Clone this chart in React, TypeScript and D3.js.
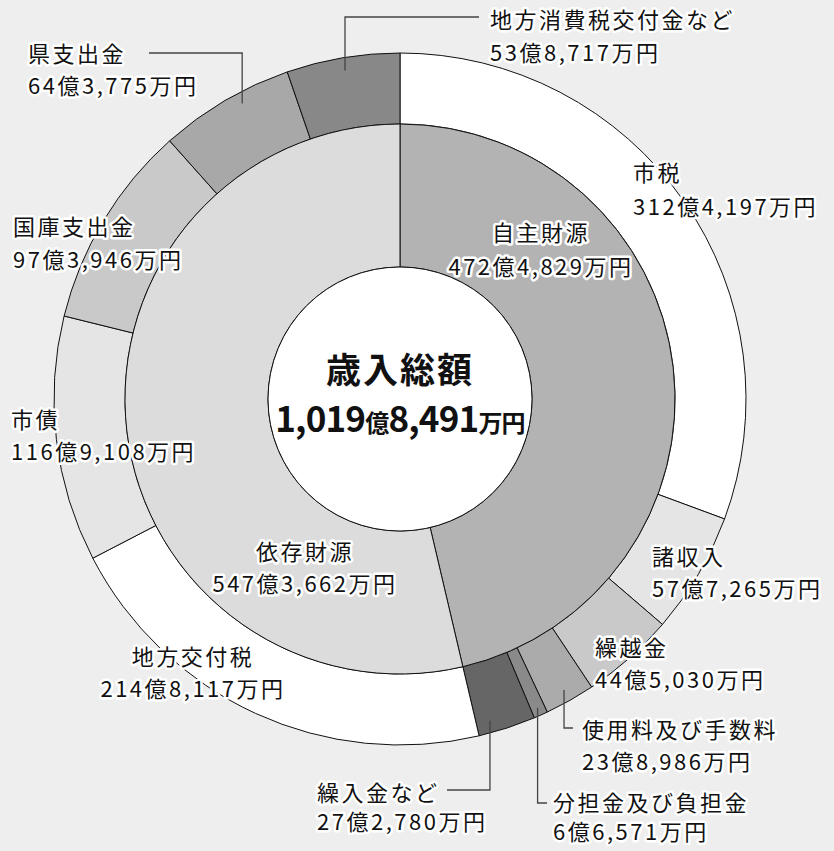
import React from "react";
import * as d3 from "d3";

const innerNames = ["自主財源", "依存財源"];
const innerValues = [472.4829, 547.3662];
const innerLabels = ["472億4,829万円", "547億3,662万円"];

const outerNames = [
  "市税", "諸収入", "繰越金", "使用料及び手数料", "分担金及び負担金", "繰入金など",
  "地方交付税", "市債", "国庫支出金", "県支出金", "地方消費税交付金など",
];
const outerValues = [
  312.4197, 57.7265, 44.503, 23.8986, 6.6571, 27.278,
  214.8117, 116.9108, 97.3946, 64.3775, 53.8717,
];
const outerLabels = [
  "312億4,197万円", "57億7,265万円", "44億5,030万円", "23億8,986万円", "6億6,571万円", "27億2,780万円",
  "214億8,117万円", "116億9,108万円", "97億3,946万円", "64億3,775万円", "53億8,717万円",
];

const innerColors = ["#b3b3b3", "#dcdcdc"];
const outerColors = [
  "#ffffff", "#e5e5e5", "#c9c9c9", "#ababab", "#8a8a8a", "#666666",
  "#ffffff", "#e5e5e5", "#c9c9c9", "#a8a8a8", "#888888",
];

const W = 834, H = 851;
const cx = 400, cy = 399;
const r0 = 132, r1 = 275, r2 = 346;

// label layout: [x, baseline1, baseline2, anchor]
const innerLayout: [number, number, number, string][] = [
  [541, 241, 275, "middle"],
  [305, 560, 592, "middle"],
];
const outerLayout: [number, number, number, string][] = [
  [633, 181, 215, "start"],
  [652, 565, 597, "start"],
  [595, 656, 688, "start"],
  [582, 738, 770, "start"],
  [553, 811, 840, "start"],
  [317, 801, 830, "start"],
  [193, 665, 697, "middle"],
  [11, 428, 460, "start"],
  [13, 235, 268, "start"],
  [28, 62, 94, "start"],
  [490, 28, 61, "start"],
];
// leaders: index -> [fraction within slice, radius, elbow y, label-side x]
const leaders: Record<number, [number, number, number, number]> = {
  9: [0.6, 335, 53, 149],
  10: [0.5, 333, 17, 479],
  5: [0.75, 334, 790, 447],
  4: [0.5, 338, 803, 547],
  3: [0.5, 334, 728, 573],
};

export default function App() {
  const pie = d3.pie<number>().sort(null).value((d) => d);
  const innerArcs = pie(innerValues);
  const outerArcs = pie(outerValues);
  const arcInner = d3.arc<d3.PieArcDatum<number>>().innerRadius(r0).outerRadius(r1);
  const arcOuter = d3.arc<d3.PieArcDatum<number>>().innerRadius(r1).outerRadius(r2);

  const labelStyle: React.CSSProperties = {
    fontFamily: "'Noto Sans CJK JP', 'Noto Sans', sans-serif",
    fontSize: 22,
    letterSpacing: 2.5,
    fill: "#111",
    stroke: "#ffffff",
    strokeWidth: 5,
    strokeLinejoin: "round",
    paintOrder: "stroke",
  };

  const renderLabel = (name: string, amount: string, lay: [number, number, number, string], key: string) => (
    <g key={key}>
      <text x={lay[0]} y={lay[1]} textAnchor={lay[3] as any} style={labelStyle}>{name}</text>
      <text x={lay[0]} y={lay[2]} textAnchor={lay[3] as any} style={labelStyle}>{amount}</text>
    </g>
  );

  return (
    <svg width={W} height={H} style={{ position: "absolute", left: 0, top: 0, background: "#eeeeee" }}>
      <rect x={0} y={0} width={W} height={H} fill="#eeeeee" />
      <g transform={`translate(${cx},${cy})`}>
        {outerArcs.map((a, i) => (
          <path key={"o" + i} d={arcOuter(a) || ""} fill={outerColors[i]} stroke="#111" strokeWidth={1} />
        ))}
        {innerArcs.map((a, i) => (
          <path key={"i" + i} d={arcInner(a) || ""} fill={innerColors[i]} stroke="#111" strokeWidth={1} />
        ))}
        <circle r={r0} fill="#ffffff" stroke="#111" strokeWidth={1} />
        {Object.keys(leaders).map((k) => {
          const i = +k;
          const [t, rr, ey, lx] = leaders[i];
          const a = outerArcs[i];
          const ang = a.startAngle + t * (a.endAngle - a.startAngle);
          const ax = rr * Math.sin(ang);
          const ay = -rr * Math.cos(ang);
          const pts = [[lx - cx, ey - cy], [ax, ey - cy], [ax, ay]];
          return (
            <polyline key={"l" + i} points={pts.map((p) => p.join(",")).join(" ")} fill="none" stroke="#444" strokeWidth={1.3} />
          );
        })}
      </g>
      {innerNames.map((n, i) => renderLabel(n, innerLabels[i], innerLayout[i], "il" + i))}
      {outerNames.map((n, i) => renderLabel(n, outerLabels[i], outerLayout[i], "ol" + i))}
      <text x={cx} y={383} textAnchor="middle" style={{ fontFamily: "'Noto Sans CJK JP', sans-serif", fontSize: 35, fontWeight: 700, letterSpacing: 2, fill: "#111" }}>歳入総額</text>
      <text x={cx} y={432} textAnchor="middle" style={{ fontFamily: "'Noto Sans CJK JP', sans-serif", fontWeight: 700, fill: "#111", letterSpacing: -0.8 }}>
        <tspan fontSize={35}>1,019</tspan>
        <tspan fontSize={24}>億</tspan>
        <tspan fontSize={35}>8,491</tspan>
        <tspan fontSize={24}>万円</tspan>
      </text>
    </svg>
  );
}
